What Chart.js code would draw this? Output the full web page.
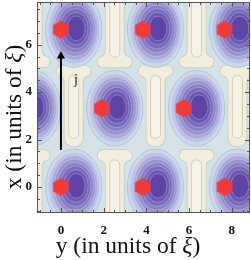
<!DOCTYPE html>
<html>
<head>
<meta charset="utf-8">
<script src="https://cdn.jsdelivr.net/npm/chart.js@4/dist/chart.umd.min.js"></script>
<style>
  body { margin: 0; background: #fff; }
</style>
</head>
<body>
<canvas id="vortexChart" width="251" height="260"></canvas>
<script>
// Vortex sites (horizontal = y, vertical = x, in units of xi), incl. the ones just off the frame
const siteY = [0, 3.83, 7.66, -1.92, 1.92, 5.75, 9.58, 0, 3.83, 7.66];
const siteX = [0, 0, 0, 3.32, 3.32, 3.32, 3.32, 6.64, 6.64, 6.64];

// Light (cream) regions between the density minima: centre, flared end, far end
const pillY = [-1.32, 2.52, 6.35, 0.6, 4.43, 8.26, -1.32, 2.52, 6.35];
const pillFlare = [5.05, 5.05, 5.05, 5.12, 5.12, 5.12, 1.56, 1.56, 1.56];
const pillEnd = [8.6, 8.6, 8.6, 1.72, 1.72, 1.72, -1.6, -1.6, -1.6];

// Current arrow j
const arrowY = [0, 0];
const arrowX = [1.56, 5.52];

// Tick labels
const yTicks = [0, 2, 4, 6, 8];
const xTicks = [0, 2, 4, 6];

const Y_MIN = -1.12, Y_MAX = 8.85, X_MIN = -1.1, X_MAX = 7.8;
const BLOB_SHIFT = 0.6;

// contour levels of the density dips, outer to inner
const ringRx = [1.32, 1.20, 1.08, 0.96, 0.84, 0.71, 0.57, 0.42];
const ringRy = [1.60, 1.45, 1.30, 1.15, 1.00, 0.85, 0.69, 0.52];
const ringColors = ['#cad8ea', '#bcc3e3', '#aaaad9', '#9893cf', '#8880c6', '#7a6bbc', '#6c58b2', '#5f44a6'];

const BG = '#d5e3e8';
const CREAM = '#f3eedc';
const SERIF = '"Liberation Serif", "Times New Roman", serif';

function hexImage(r, color) {
  const c = document.createElement('canvas');
  const w = 2 * r * Math.cos(Math.PI / 6);
  c.width = Math.ceil(w) + 2;
  c.height = 2 * r + 2;
  const g = c.getContext('2d');
  g.fillStyle = color;
  g.beginPath();
  for (let k = 0; k < 6; k++) {
    const a = -Math.PI / 2 + k * Math.PI / 3;
    const px = c.width / 2 + r * Math.cos(a);
    const py = c.height / 2 + r * Math.sin(a);
    if (k === 0) g.moveTo(px, py); else g.lineTo(px, py);
  }
  g.closePath();
  g.fill();
  return c;
}

function pillPath(ctx, cx, yF, yE, bw, fw, fl) {
  const d = yE > yF ? 1 : -1;
  const r = 6;
  ctx.beginPath();
  ctx.moveTo(cx - fw + r, yF);
  ctx.lineTo(cx + fw - r, yF);
  ctx.quadraticCurveTo(cx + fw, yF, cx + fw, yF + d * r);
  ctx.bezierCurveTo(cx + fw, yF + d * fl * 0.7, cx + bw, yF + d * fl * 0.4, cx + bw, yF + d * fl);
  ctx.lineTo(cx + bw, yE - d * bw);
  ctx.quadraticCurveTo(cx + bw, yE, cx, yE);
  ctx.quadraticCurveTo(cx - bw, yE, cx - bw, yE - d * bw);
  ctx.lineTo(cx - bw, yF + d * fl);
  ctx.bezierCurveTo(cx - bw, yF + d * fl * 0.4, cx - fw, yF + d * fl * 0.7, cx - fw, yF + d * r);
  ctx.quadraticCurveTo(cx - fw, yF, cx - fw + r, yF);
  ctx.closePath();
}

function roundRectPath(ctx, cx, y0, y1, hw) {
  const top = Math.min(y0, y1), bot = Math.max(y0, y1);
  ctx.beginPath();
  ctx.moveTo(cx - hw, top + hw);
  ctx.quadraticCurveTo(cx - hw, top, cx, top);
  ctx.quadraticCurveTo(cx + hw, top, cx + hw, top + hw);
  ctx.lineTo(cx + hw, bot - hw);
  ctx.quadraticCurveTo(cx + hw, bot, cx, bot);
  ctx.quadraticCurveTo(cx - hw, bot, cx - hw, bot - hw);
  ctx.closePath();
}

const fieldPlugin = {
  id: 'field',
  beforeDatasetsDraw(chart) {
    const { ctx, chartArea: a, scales: { x, y } } = chart;
    const ppuX = Math.abs(x.getPixelForValue(1) - x.getPixelForValue(0));
    const ppuY = Math.abs(y.getPixelForValue(1) - y.getPixelForValue(0));
    ctx.save();
    ctx.beginPath();
    ctx.rect(a.left, a.top, a.width, a.height);
    ctx.clip();
    ctx.fillStyle = BG;
    ctx.fillRect(a.left, a.top, a.width, a.height);

    // cream regions: outline pass, then fill pass
    const pills = pillY.map((v, i) => [x.getPixelForValue(v), y.getPixelForValue(pillFlare[i]), y.getPixelForValue(pillEnd[i])]);
    ctx.strokeStyle = '#c6d0cc';
    ctx.lineWidth = 2;
    pills.forEach(p => { pillPath(ctx, p[0], p[1], p[2], 9, 17, 18); ctx.stroke(); });
    ctx.fillStyle = CREAM;
    pills.forEach(p => { pillPath(ctx, p[0], p[1], p[2], 9, 17, 18); ctx.fill(); });
    ctx.lineWidth = 1;
    ctx.strokeStyle = 'rgba(200,192,165,0.7)';
    ctx.fillStyle = '#f6f2e5';
    pills.forEach(p => {
      const d = p[2] > p[1] ? 1 : -1;
      roundRectPath(ctx, p[0], p[1] + d * 10, p[2] - d * 8, 5);
      ctx.fill();
      ctx.stroke();
    });

    // density dips around each vortex
    siteY.forEach((v, i) => {
      const cx = x.getPixelForValue(v + BLOB_SHIFT);
      const cy = y.getPixelForValue(siteX[i]);
      ringColors.forEach((col, k) => {
        ctx.beginPath();
        ctx.ellipse(cx + k * 0.35, cy - k * 0.15, ringRx[k] * ppuX, ringRy[k] * ppuY, 0, 0, Math.PI * 2);
        ctx.fillStyle = col;
        ctx.fill();
        ctx.lineWidth = 0.8;
        ctx.strokeStyle = k === 0 ? 'rgba(165,190,218,0.9)' : 'rgba(220,224,245,0.4)';
        ctx.stroke();
      });
    });
    ctx.restore();
  },
  afterDatasetsDraw(chart) {
    const { ctx, chartArea: a, scales: { x, y } } = chart;
    ctx.save();
    // frame and inward ticks
    ctx.strokeStyle = '#555';
    ctx.lineWidth = 1;
    ctx.strokeRect(a.left + 0.5, a.top + 0.5, a.width - 1, a.height - 1);
    ctx.beginPath();
    for (let v = -1; v <= 8.5; v += 0.5) {
      const px = Math.round(x.getPixelForValue(v)) + 0.5;
      const len = v % 2 === 0 ? 5 : 3;
      ctx.moveTo(px, a.bottom); ctx.lineTo(px, a.bottom - len);
      ctx.moveTo(px, a.top); ctx.lineTo(px, a.top + len);
    }
    for (let v = -1; v <= 7.5; v += 0.5) {
      const py = Math.round(y.getPixelForValue(v)) + 0.5;
      const len = v % 2 === 0 ? 5 : 3;
      ctx.moveTo(a.left, py); ctx.lineTo(a.left + len, py);
      ctx.moveTo(a.right, py); ctx.lineTo(a.right - len, py);
    }
    ctx.stroke();

    // label of the current
    ctx.fillStyle = '#111';
    ctx.font = '14px ' + SERIF;
    ctx.textAlign = 'center';
    ctx.textBaseline = 'middle';
    ctx.fillText('j', x.getPixelForValue(0.7), y.getPixelForValue(4.5));

    // axis titles with italic xi
    const drawTitle = (cx, cy, rot, label) => {
      ctx.save();
      ctx.translate(cx, cy);
      ctx.rotate(rot);
      ctx.textAlign = 'left';
      ctx.textBaseline = 'alphabetic';
      const reg = '23.5px ' + SERIF, ita = 'italic 23.5px ' + SERIF;
      const parts = [[label, reg], ['ξ', ita], [')', reg]];
      let total = 0;
      parts.forEach(p => { ctx.font = p[1]; total += ctx.measureText(p[0]).width; });
      let pos = -total / 2;
      parts.forEach(p => { ctx.font = p[1]; ctx.fillText(p[0], pos, 0); pos += ctx.measureText(p[0]).width; });
      ctx.restore();
    };
    drawTitle(128, 253, 0, 'y (in units of ');
    drawTitle(21, 117, -Math.PI / 2, 'x (in units of ');
    ctx.restore();
  }
};

const tickFont = { family: SERIF, weight: 'bold', size: 13 };

const hex = hexImage(9, '#f03b3b');
const vortexPoints = siteY
  .map((v, i) => ({ x: v, y: siteX[i] }))
  .filter(p => p.x >= Y_MIN && p.x <= Y_MAX && p.y >= X_MIN && p.y <= X_MAX);

new Chart(document.getElementById('vortexChart').getContext('2d'), {
  type: 'scatter',
  data: {
    datasets: [
      {
        label: 'vortices',
        data: vortexPoints,
        pointStyle: hex,
        pointRadius: 9,
        pointHoverRadius: 9,
      },
      {
        label: 'j',
        data: arrowY.map((v, i) => ({ x: v, y: arrowX[i] })),
        showLine: true,
        borderColor: '#000',
        borderWidth: 2,
        pointStyle: 'triangle',
        pointRadius: [0, 4.8],
        pointBackgroundColor: '#000',
        pointBorderWidth: 0,
      },
    ],
  },
  options: {
    responsive: false,
    animation: false,
    devicePixelRatio: 1,
    layout: { autoPadding: false, padding: { top: 2, right: 1, left: 0, bottom: 0 } },
    plugins: { legend: { display: false }, tooltip: { enabled: false } },
    scales: {
      x: {
        type: 'linear',
        min: Y_MIN,
        max: Y_MAX,
        afterBuildTicks: s => { s.ticks = yTicks.map(v => ({ value: v })); },
        afterFit: s => { s.height = 47; s.paddingLeft = 0; s.paddingRight = 0; },
        grid: { display: false, drawTicks: false, tickLength: 0 },
        border: { display: false },
        ticks: { font: tickFont, color: '#111', padding: 10, maxRotation: 0, autoSkip: false },
      },
      y: {
        type: 'linear',
        min: X_MIN,
        max: X_MAX,
        afterBuildTicks: s => { s.ticks = xTicks.map(v => ({ value: v })); },
        afterFit: s => { s.width = 37; s.paddingTop = 0; s.paddingBottom = 0; },
        grid: { display: false, drawTicks: false, tickLength: 0 },
        border: { display: false },
        ticks: { font: tickFont, color: '#111', padding: 5, autoSkip: false },
      },
    },
  },
  plugins: [fieldPlugin],
});
</script>
</body>
</html>
